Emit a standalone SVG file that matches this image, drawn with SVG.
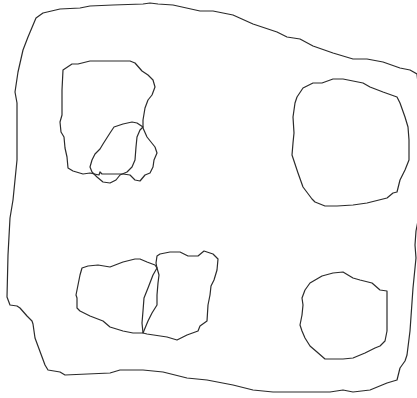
<svg xmlns="http://www.w3.org/2000/svg" width="417" height="398" viewBox="0 0 417 398">
<style>
.s{fill:none;stroke:#2b2b2b;stroke-width:1.2;stroke-linejoin:round;stroke-linecap:round}
</style>
<rect width="417" height="398" fill="#fff"/>
<g id="outer">
<path class="s" d="M13,200 L17,160 L17,103 L15,92 L18,72 L23,50 L28,37 L36,18 L43,13 L60,9 L80,8 L90,6 L113,5 L143,4 L150,3 L158,4 L173,5 L200,11 L213,11 L233,15 L253,24 L277,32 L287,37 L300,39 L313,46 L333,53 L353,59 L367,59 L383,62 L400,68 L410,70 L417,74 L422,120 L422,200 L416,231 L415,245 L416,258 L413,288 L410,331 L407,355 L405,361 L400,368 L397,380 L387,383 L370,390 L353,392 L343,390 L330,392 L273,392 L253,390 L233,385 L207,380 L187,378 L163,372 L143,370 L120,370 L110,373 L65,375 L60,372 L48,370 L45,365 L35,338 L33,324 L32,321 L27,316 L20,308 L17,306 L10,305 L7,297 L8,255 L10,218 Z"/>
</g>
<g id="blob-top-left">
<path class="s" d="M63,70 L72,64 L78,64 L90,61 L130,61 L135,63 L142,71 L148,75 L153,80 L155,87 L152,95 L148,100 L145,108 L143,120 L143,128 L147,137 L155,147 L157,153 L154,160 L153,167 L150,173 L145,175 L140,181 L135,180 L130,175 L123,174 L102,174 L100,172 L99,175 L90,173 L83,174 L73,171 L68,168 L67,157 L65,148 L64,137 L61,132 L60,122 L62,115 L62,90 Z"/>
</g>
<g id="blob-small">
<path class="s" d="M143,127 L137,123 L132,122 L123,124 L114,127 L110,133 L103,144 L100,149 L95,154 L92,160 L90,167 L92,172 L97,177 L103,182 L110,183 L116,180 L120,175 L127,172 L132,167 L135,160 L136,147 L137,137 L140,130 Z"/>
</g>
<g id="blob-top-right">
<path class="s" d="M297,97 L303,88 L313,83 L322,83 L333,79 L343,79 L363,83 L370,87 L383,92 L397,97 L400,103 L405,117 L408,127 L409,140 L409,160 L405,170 L400,180 L397,192 L393,193 L387,198 L367,203 L353,205 L337,206 L325,206 L315,202 L312,199 L303,187 L298,173 L293,158 L292,155 L293,143 L294,133 L293,117 L295,103 Z"/>
</g>
<g id="blob-bottom-right">
<path class="s" d="M310,283 L322,276 L333,273 L343,272 L353,278 L360,280 L372,283 L380,290 L387,291 L387,331 L385,341 L380,346 L375,348 L365,353 L353,358 L343,359 L325,359 L317,352 L310,346 L305,338 L302,331 L300,325 L302,315 L303,305 L302,298 L305,290 Z"/>
</g>
<g id="blob-bottom-left">
<path class="s" d="M82,268 L88,266 L98,265 L110,267 L123,262 L135,259 L140,259 L147,262 L155,265 L157,268 L153,275 L148,288 L144,298 L143,311 L142,323 L143,333 L133,333 L123,331 L110,327 L103,321 L90,316 L80,311 L77,308 L77,298 L76,295 L78,285 L80,275 Z"/>
</g>
<g id="blob-bottom-middle">
<path class="s" d="M157,256 L160,254 L170,252 L180,252 L188,256 L198,256 L204,251 L213,254 L218,259 L217,270 L214,280 L211,286 L210,295 L208,305 L207,321 L200,326 L198,331 L187,335 L177,340 L167,337 L147,334 L143,333 L148,321 L152,313 L157,305 L157,295 L158,283 L159,275 L157,268 L156,263 Z"/>
</g>
<g id="connectors"></g>
</svg>
